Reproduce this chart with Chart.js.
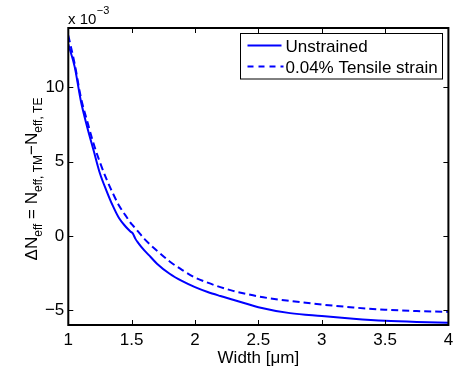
<!DOCTYPE html>
<html>
<head>
<meta charset="utf-8">
<script src="https://cdn.jsdelivr.net/npm/chart.js@4"></script>
<style>
  body { margin: 0; background: #fff; }
  #wrap { width: 453px; height: 369px; }
</style>
</head>
<body>
<div id="wrap"><canvas id="myChart" width="453" height="369"></canvas></div>
<script>
// values, y in units of 1e-3
var widths = [1.0, 1.05, 1.1, 1.15, 1.2, 1.25, 1.3, 1.35, 1.4, 1.45, 1.49, 1.51, 1.53, 1.55, 1.6, 1.65, 1.7, 1.8, 1.9, 2.0, 2.1, 2.2, 2.3, 2.4, 2.5, 2.75, 3.0, 3.25, 3.5, 3.75, 4.0];
var unstrained = [12.9, 11.4, 9.05, 7.3, 5.75, 4.2, 3.07, 2.05, 1.2, 0.65, 0.3, 0.15, -0.2, -0.45, -0.98, -1.42, -1.87, -2.55, -3.05, -3.45, -3.78, -4.05, -4.3, -4.55, -4.8, -5.2, -5.4, -5.58, -5.72, -5.8, -5.85];
var tensile = [13.5, 11.6, 9.3, 7.7, 6.2, 4.95, 3.85, 2.9, 2.05, 1.4, 0.9, 0.7, 0.5, 0.3, -0.2, -0.62, -1.0, -1.72, -2.3, -2.8, -3.15, -3.45, -3.7, -3.9, -4.08, -4.38, -4.62, -4.82, -4.97, -5.06, -5.12];
var seriesNames = ["Unstrained", "0.04% Tensile strain"];
var xTicks = [1, 1.5, 2, 2.5, 3, 3.5, 4];
var yTicks = [-5, 0, 5, 10];

var FONT = "'Liberation Sans', Arial, Helvetica, sans-serif";

function pts(ys) {
  return widths.map(function (w, i) { return { x: w, y: ys[i] }; });
}

// axis box, inward ticks, labels and legend in matlab style
var decor = {
  id: 'decor',
  afterDraw: function (chart) {
    var ctx = chart.ctx;
    var a = chart.chartArea;
    var sx = chart.scales.x, sy = chart.scales.y;
    ctx.save();
    ctx.strokeStyle = '#000';
    ctx.lineWidth = 1;
    xTicks.forEach(function (v) {
      var px = Math.round(sx.getPixelForValue(v)) + 0.5;
      ctx.beginPath();
      ctx.moveTo(px, a.bottom); ctx.lineTo(px, a.bottom - 5);
      ctx.moveTo(px, a.top); ctx.lineTo(px, a.top + 5);
      ctx.stroke();
    });
    yTicks.forEach(function (v) {
      var py = Math.round(sy.getPixelForValue(v)) + 0.5;
      ctx.beginPath();
      ctx.moveTo(a.left, py); ctx.lineTo(a.left + 5, py);
      ctx.moveTo(a.right, py); ctx.lineTo(a.right - 5, py);
      ctx.stroke();
    });
    ctx.lineWidth = 2;
    ctx.strokeRect(a.left, a.top, a.right - a.left, a.bottom - a.top);

    // exponent label
    ctx.fillStyle = '#000';
    ctx.textBaseline = 'alphabetic';
    ctx.textAlign = 'left';
    ctx.font = '15px ' + FONT;
    ctx.fillText('x 10', 68, 23.5);
    var w1 = ctx.measureText('x 10').width;
    ctx.font = '11px ' + FONT;
    ctx.fillText('\u22123', 68 + w1 + 0.5, 13.5);

    // x title
    ctx.font = '17px ' + FONT;
    ctx.textAlign = 'center';
    ctx.fillText('Width [\u03bcm]', (a.left + a.right) / 2, 362.5);

    // y title with subscripts
    var parts = [['\u0394N', 0], ['eff', 1], [' = N', 0], ['eff, TM', 1], ['\u2212N', 0], ['eff, TE', 1]];
    ctx.textAlign = 'left';
    var total = 0;
    parts.forEach(function (p) {
      ctx.font = (p[1] ? '12px ' : '17px ') + FONT;
      total += ctx.measureText(p[0]).width;
    });
    ctx.translate(36.5, 179);
    ctx.rotate(-Math.PI / 2);
    var cx = -total / 2;
    parts.forEach(function (p) {
      ctx.font = (p[1] ? '12px ' : '17px ') + FONT;
      ctx.fillText(p[0], cx, p[1] ? 5 : 0);
      cx += ctx.measureText(p[0]).width;
    });
    ctx.setTransform(1, 0, 0, 1, 0, 0);

    // legend
    var lx = 240.5, ly = 33.5, lw = 202, lh = 45.5;
    ctx.fillStyle = '#fff';
    ctx.fillRect(lx, ly, lw, lh);
    ctx.strokeStyle = '#000';
    ctx.lineWidth = 1;
    ctx.strokeRect(lx, ly, lw, lh);
    ctx.strokeStyle = '#0000ff';
    ctx.lineWidth = 2;
    ctx.beginPath();
    ctx.moveTo(247.5, 45.5); ctx.lineTo(281.5, 45.5);
    ctx.stroke();
    ctx.setLineDash([6, 5]);
    ctx.beginPath();
    ctx.moveTo(247.5, 66.5); ctx.lineTo(283.5, 66.5);
    ctx.stroke();
    ctx.setLineDash([]);
    ctx.fillStyle = '#000';
    ctx.font = '17px ' + FONT;
    ctx.fillText(seriesNames[0], 285.5, 51.5);
    ctx.fillText(seriesNames[1], 285.5, 73);
    ctx.restore();
  }
};

var canvas = document.getElementById("myChart");
var myChart = new Chart(canvas, {
  type: 'line',
  data: {
    datasets: [
      {
        label: seriesNames[0],
        data: pts(unstrained),
        borderColor: '#0000ff',
        borderWidth: 2,
        pointRadius: 0,
        cubicInterpolationMode: 'monotone',
        fill: false
      },
      {
        label: seriesNames[1],
        data: pts(tensile),
        borderColor: '#0000ff',
        borderWidth: 2,
        borderDash: [7, 4],
        pointRadius: 0,
        cubicInterpolationMode: 'monotone',
        fill: false
      }
    ]
  },
  options: {
    responsive: false,
    animation: false,
    devicePixelRatio: 1,
    layout: { autoPadding: false, padding: { top: 28, right: 4.6, left: 0, bottom: 0 } },
    plugins: { legend: { display: false }, tooltip: { enabled: false } },
    scales: {
      x: {
        type: 'linear',
        min: 1, max: 4,
        grid: { display: false, drawTicks: false },
        border: { display: false },
        afterBuildTicks: function (s) { s.ticks = xTicks.map(function (v) { return { value: v }; }); },
        afterFit: function (s) { s.height = 44; s.paddingLeft = 0; s.paddingRight = 0; },
        ticks: {
          color: '#000', padding: 5.5, maxRotation: 0, font: { family: FONT, size: 17 },
          callback: function (v) { return String(v); }
        }
      },
      y: {
        type: 'linear',
        min: -6, max: 14,
        grid: { display: false, drawTicks: false },
        border: { display: false },
        afterBuildTicks: function (s) { s.ticks = yTicks.map(function (v) { return { value: v }; }); },
        afterFit: function (s) { s.width = 68.3; s.paddingTop = 0; s.paddingBottom = 0; },
        ticks: {
          color: '#000', padding: 4, font: { family: FONT, size: 17 },
          callback: function (v) { return v < 0 ? '\u2212' + Math.abs(v) : String(v); }
        }
      }
    }
  },
  plugins: [decor]
});
</script>
</body>
</html>
